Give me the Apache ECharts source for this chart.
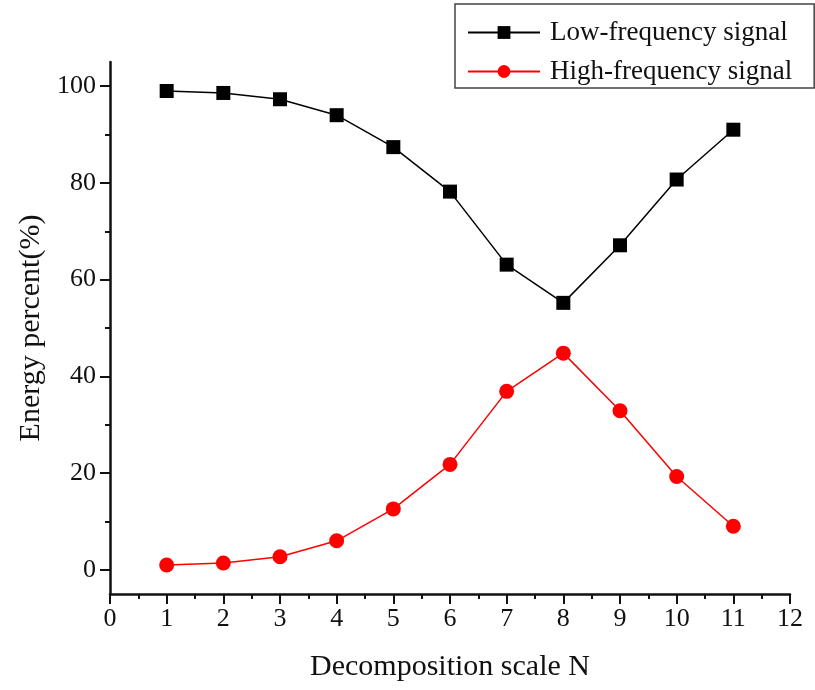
<!DOCTYPE html>
<html>
<head>
<meta charset="utf-8">
<script src="https://cdn.jsdelivr.net/npm/echarts@6/dist/echarts.min.js"></script>
<style>
  html, body { margin: 0; padding: 0; background: #fff; }
  #chart { width: 815px; height: 690px; }
</style>
</head>
<body>
<div id="chart"></div>
<script>
// decomposition scale N
const scales = [1, 2, 3, 4, 5, 6, 7, 8, 9, 10, 11];
// energy percent (%)
const lowFreq = [99.0, 98.6, 97.3, 94.0, 87.4, 78.2, 63.1, 55.2, 67.1, 80.7, 91.0];
const highFreq = [1.0, 1.4, 2.7, 6.0, 12.6, 21.8, 36.9, 44.8, 32.9, 19.3, 9.0];
const yMajorTicks = [0, 20, 40, 60, 80, 100];
const yMinorTicks = [10, 30, 50, 70, 90];

const font = 'Liberation Serif';
const chart = echarts.init(document.getElementById('chart'));

chart.setOption({
  animation: false,
  grid: { left: 110, right: 25, top: 62, bottom: 96, outerBoundsMode: 'none' },
  legend: {
    orient: 'vertical',
    left: 455,
    top: 4,
    width: 357,
    padding: [15, 22, 3, 12],
    itemGap: 12,
    itemWidth: 72,
    itemHeight: 16,
    borderColor: '#444',
    borderWidth: 1.5,
    textStyle: { fontFamily: font, fontSize: 27, color: '#111', padding: [0, 0, 0, 5] },
    data: ['Low-frequency signal', 'High-frequency signal']
  },
  xAxis: {
    type: 'value',
    min: 0,
    max: 12,
    interval: 1,
    name: 'Decomposition scale N',
    nameLocation: 'middle',
    nameGap: 58,
    nameTextStyle: { fontFamily: font, fontSize: 30, color: '#111' },
    axisLine: { onZero: false, lineStyle: { color: '#111', width: 2.5 } },
    axisTick: { length: 10, lineStyle: { width: 2 } },
    minorTick: { show: true, splitNumber: 2, length: 5, lineStyle: { color: '#111', width: 2 } },
    splitLine: { show: false },
    axisLabel: { fontFamily: font, fontSize: 26, color: '#111', margin: 12 }
  },
  yAxis: [
    {
      type: 'value',
      min: -5,
      max: 105,
      name: 'Energy percent(%)',
      nameLocation: 'middle',
      nameGap: 62,
      nameTextStyle: { fontFamily: font, fontSize: 30, color: '#111' },
      axisLine: { show: true, onZero: false, lineStyle: { color: '#111', width: 2.5 } },
      axisTick: { show: true, length: 10, customValues: yMajorTicks, lineStyle: { width: 2 } },
      axisLabel: { fontFamily: font, fontSize: 26, color: '#111', margin: 14, customValues: yMajorTicks },
      splitLine: { show: false }
    },
    {
      type: 'value',
      min: -5,
      max: 105,
      position: 'left',
      axisLine: { show: false, onZero: false },
      axisTick: { show: true, length: 5, customValues: yMinorTicks, lineStyle: { color: '#111', width: 2 } },
      axisLabel: { show: false, customValues: yMinorTicks },
      splitLine: { show: false }
    }
  ],
  series: [
    {
      name: 'Low-frequency signal',
      type: 'line',
      data: scales.map((n, i) => [n, lowFreq[i]]),
      symbol: 'rect',
      symbolSize: 14,
      color: '#000',
      lineStyle: { width: 1.5, color: '#000' }
    },
    {
      name: 'High-frequency signal',
      type: 'line',
      data: scales.map((n, i) => [n, highFreq[i]]),
      symbol: 'circle',
      symbolSize: 15,
      color: '#ff0000',
      lineStyle: { width: 1.5, color: '#ff0000' }
    }
  ]
});
</script>
</body>
</html>
